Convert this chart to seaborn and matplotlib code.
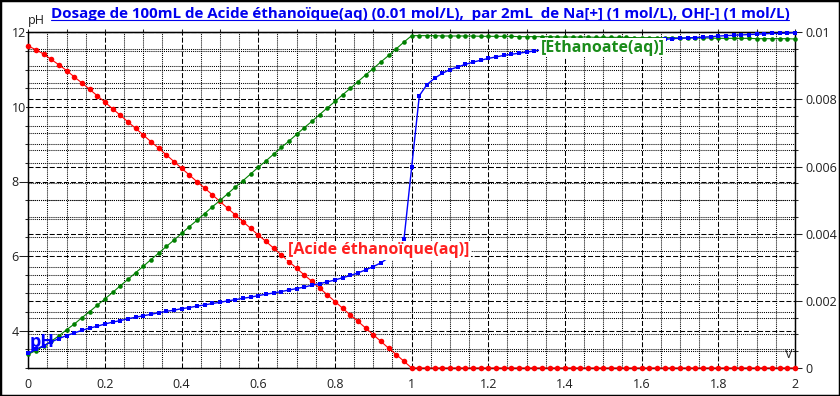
import matplotlib
matplotlib.use("Agg")
import matplotlib.pyplot as plt
import seaborn as sns
from matplotlib.lines import Line2D
from matplotlib.patches import Rectangle
from matplotlib.ticker import FixedLocator, MultipleLocator

# volume of NaOH added (mL)
volume = [
    0.00, 0.02, 0.04, 0.06, 0.08, 0.10, 0.12, 0.14, 0.16, 0.18,
    0.20, 0.22, 0.24, 0.26, 0.28, 0.30, 0.32, 0.34, 0.36, 0.38,
    0.40, 0.42, 0.44, 0.46, 0.48, 0.50, 0.52, 0.54, 0.56, 0.58,
    0.60, 0.62, 0.64, 0.66, 0.68, 0.70, 0.72, 0.74, 0.76, 0.78,
    0.80, 0.82, 0.84, 0.86, 0.88, 0.90, 0.92, 0.94, 0.96, 0.98,
    1.00, 1.02, 1.04, 1.06, 1.08, 1.10, 1.12, 1.14, 1.16, 1.18,
    1.20, 1.22, 1.24, 1.26, 1.28, 1.30, 1.32, 1.34, 1.36, 1.38,
    1.40, 1.42, 1.44, 1.46, 1.48, 1.50, 1.52, 1.54, 1.56, 1.58,
    1.60, 1.62, 1.64, 1.66, 1.68, 1.70, 1.72, 1.74, 1.76, 1.78,
    1.80, 1.82, 1.84, 1.86, 1.88, 1.90, 1.92, 1.94, 1.96, 1.98,
    2.00,
]

# pH (left axis)
ph = [
    3.39, 3.50, 3.60, 3.70, 3.79, 3.87, 3.94, 4.01, 4.07, 4.12,
    4.18, 4.23, 4.27, 4.32, 4.36, 4.40, 4.44, 4.48, 4.52, 4.55,
    4.59, 4.62, 4.66, 4.69, 4.73, 4.76, 4.80, 4.83, 4.87, 4.90,
    4.94, 4.98, 5.01, 5.05, 5.09, 5.13, 5.17, 5.22, 5.26, 5.31,
    5.36, 5.42, 5.48, 5.55, 5.63, 5.72, 5.82, 5.96, 6.14, 6.45,
    8.38, 10.30, 10.60, 10.77, 10.90, 11.00, 11.07, 11.14, 11.20, 11.25,
    11.30, 11.34, 11.38, 11.41, 11.44, 11.47, 11.50, 11.53, 11.55, 11.57,
    11.60, 11.62, 11.64, 11.66, 11.67, 11.69, 11.71, 11.73, 11.74, 11.76,
    11.77, 11.79, 11.80, 11.81, 11.83, 11.84, 11.85, 11.86, 11.87, 11.88,
    11.90, 11.91, 11.92, 11.93, 11.94, 11.95, 11.96, 11.97, 11.97, 11.98,
    11.99,
]

# [Acide ethanoique(aq)] in mol/L (right axis)
acide = [
    0.00959, 0.00948, 0.00935, 0.00919, 0.00903, 0.00886, 0.00867, 0.00849, 0.00830, 0.00811,
    0.00792, 0.00772, 0.00753, 0.00733, 0.00714, 0.00694, 0.00674, 0.00655, 0.00635, 0.00615,
    0.00595, 0.00575, 0.00555, 0.00536, 0.00516, 0.00496, 0.00476, 0.00456, 0.00436, 0.00416,
    0.00396, 0.00377, 0.00357, 0.00337, 0.00317, 0.00297, 0.00277, 0.00258, 0.00238, 0.00218,
    0.00198, 0.00178, 0.00158, 0.00139, 0.00119, 0.00099, 0.00079, 0.00059, 0.00040, 0.00020,
    0.0, 0.0, 0.0, 0.0, 0.0, 0.0, 0.0, 0.0, 0.0, 0.0,
    0.0, 0.0, 0.0, 0.0, 0.0, 0.0, 0.0, 0.0, 0.0, 0.0,
    0.0, 0.0, 0.0, 0.0, 0.0, 0.0, 0.0, 0.0, 0.0, 0.0,
    0.0, 0.0, 0.0, 0.0, 0.0, 0.0, 0.0, 0.0, 0.0, 0.0,
    0.0, 0.0, 0.0, 0.0, 0.0, 0.0, 0.0, 0.0, 0.0, 0.0,
    0.0,
]

# [Ethanoate(aq)] in mol/L (right axis)
ethanoate = [
    0.00041, 0.00052, 0.00065, 0.00080, 0.00096, 0.00114, 0.00131, 0.00150, 0.00168, 0.00187,
    0.00206, 0.00225, 0.00245, 0.00264, 0.00284, 0.00303, 0.00323, 0.00342, 0.00362, 0.00381,
    0.00401, 0.00421, 0.00440, 0.00460, 0.00480, 0.00499, 0.00519, 0.00539, 0.00558, 0.00578,
    0.00598, 0.00617, 0.00637, 0.00657, 0.00676, 0.00696, 0.00716, 0.00735, 0.00755, 0.00775,
    0.00794, 0.00814, 0.00833, 0.00853, 0.00873, 0.00892, 0.00912, 0.00931, 0.00951, 0.00971,
    0.00990, 0.00990, 0.00990, 0.00990, 0.00989, 0.00989, 0.00989, 0.00989, 0.00989, 0.00988,
    0.00988, 0.00988, 0.00988, 0.00988, 0.00987, 0.00987, 0.00987, 0.00987, 0.00987, 0.00986,
    0.00986, 0.00986, 0.00986, 0.00986, 0.00985, 0.00985, 0.00985, 0.00985, 0.00985, 0.00984,
    0.00984, 0.00984, 0.00984, 0.00984, 0.00984, 0.00983, 0.00983, 0.00983, 0.00983, 0.00983,
    0.00982, 0.00982, 0.00982, 0.00982, 0.00982, 0.00981, 0.00981, 0.00981, 0.00981, 0.00981,
    0.00980,
]

x_ticks = [0, 0.2, 0.4, 0.6, 0.8, 1.0, 1.2, 1.4, 1.6, 1.8, 2.0]
x_labels = ["0", "0.2", "0.4", "0.6", "0.8", "1", "1.2", "1.4", "1.6", "1.8", "2"]
ph_ticks = [4, 6, 8, 10, 12]
ph_labels = ["4", "6", "8", "10", "12"]
conc_ticks = [0, 0.002, 0.004, 0.006, 0.008, 0.01]
conc_labels = ["0", "0.002", "0.004", "0.006", "0.008", "0.01"]

title = "Dosage de 100mL de Acide éthanoïque(aq) (0.01 mol/L),  par 2mL  de Na[+] (1 mol/L), OH[-] (1 mol/L)"

sns.set_style("white")
plt.rcParams["font.family"] = ["Open Sans", "DejaVu Sans"]

W, H = 840, 396
fig = plt.figure(figsize=(W / 100, H / 100), dpi=100)
ax = fig.add_axes([28.3 / W, 1 - 368 / H, (795 - 28.3) / W, (368 - 32.3) / H])
ax2 = ax.twinx()
ax3 = ax.twinx()

txt_col = "#202020"
dash_major = (0, (4.8, 2.0))
dot_minor = (0, (1.0, 1.0))

# concentrations on the right axis
sns.lineplot(x=volume, y=acide, ax=ax2, color="#ff0000", marker="o", markersize=4,
             markeredgewidth=0, linewidth=0.8, clip_on=False, zorder=3)
sns.lineplot(x=volume, y=ethanoate, ax=ax2, color="#008000", marker="o", markersize=3.3,
             markeredgewidth=0, linewidth=0.8, clip_on=False, zorder=3)
# pH on top
sns.lineplot(x=volume, y=ph, ax=ax3, color="#0000ff", marker="s", markersize=3,
             markeredgewidth=0, linewidth=1.0, clip_on=False, zorder=3)

# left axis: pH grid
ax.set_xlim(0, 2)
ax.set_ylim(3, 12)
ax.xaxis.set_major_locator(FixedLocator(x_ticks))
ax.set_xticklabels(x_labels)
ax.xaxis.set_minor_locator(MultipleLocator(0.05))
ax.yaxis.set_major_locator(FixedLocator(ph_ticks))
ax.set_yticklabels(ph_labels)
ax.yaxis.set_minor_locator(MultipleLocator(0.5))
ax.grid(which="major", color="black", linestyle=dash_major, linewidth=0.75)
ax.grid(which="minor", color="black", linestyle=dot_minor, linewidth=0.75)
ax.tick_params(axis="x", which="major", direction="out", length=5, width=0.75,
               pad=2.5, labelsize=9, colors=txt_col)
ax.tick_params(axis="x", which="minor", direction="out", length=2.2, width=0.75)
ax.tick_params(axis="y", which="major", direction="out", length=6.5, width=0.75,
               pad=5.5, labelsize=9, colors=txt_col)
ax.tick_params(axis="y", which="minor", direction="out", length=2.5, width=0.75)
for lbl in ax.get_yticklabels():
    lbl.set_horizontalalignment("left")
    lbl.set_bbox(dict(facecolor="white", edgecolor="none", pad=0))
ax.set_xlabel("")
ax.set_ylabel("")

# right axis: concentration grid
ax2.set_ylim(0, 0.01)
ax2.yaxis.set_major_locator(FixedLocator(conc_ticks))
ax2.set_yticklabels(conc_labels)
ax2.yaxis.set_minor_locator(MultipleLocator(0.0005))
ax2.grid(axis="y", which="major", color="black", linestyle=dash_major, linewidth=0.75)
ax2.grid(axis="y", which="minor", color="black", linestyle=dot_minor, linewidth=0.75)
ax2.tick_params(axis="y", which="major", direction="out", length=5, width=0.75,
                pad=2.5, labelsize=9, colors=txt_col)
ax2.tick_params(axis="y", which="minor", direction="inout", length=4, width=0.75)
ax2.set_ylabel("")

sec = ax.secondary_xaxis("top")
sec.xaxis.set_major_locator(MultipleLocator(0.1))
sec.tick_params(direction="out", length=2.5, width=0.75, labeltop=False)

for a in (ax, ax2):
    for s in a.spines.values():
        s.set_linewidth(0.9)
        s.set_color("black")

ax3.set_xlim(0, 2)
ax3.set_ylim(3, 12)
ax3.set_axis_off()

box = dict(boxstyle="square,pad=0.1", facecolor="white", edgecolor="none")
ax3.text(0.677, 6.16, "[Acide éthanoïque(aq)]", color="#ff2020", fontsize=11.5,
         fontweight="bold", ha="left", va="center", bbox=box, zorder=6)
ax3.text(1.337, 11.59, "[Ethanoate(aq)]", color="#1a8c1a", fontsize=11.5,
         fontweight="bold", ha="left", va="center", bbox=box, zorder=6)
ax3.text(0.003, 3.70, "pH", color="#0000ff", fontsize=13, fontweight="bold",
         ha="left", va="center", zorder=6)

ax.text(0, 1 + (32.3 - 24) / 335.7, "pH", transform=ax.transAxes, ha="left",
        va="baseline", fontsize=9, color=txt_col)
ax.text(0.997, (368 - 358) / 335.7, "V", transform=ax.transAxes, ha="right",
        va="baseline", fontsize=9, color=txt_col)

t = fig.text(0.5, 1 - 17.7 / H, title, ha="center", va="baseline", fontsize=10.9,
             fontweight="bold", color="#0000ee")

fig.patches.append(Rectangle((0, 0), 1, 1, transform=fig.transFigure, fill=False,
                             edgecolor="black", linewidth=2.5))

# underline the title
fig.canvas.draw()
bb = t.get_window_extent()
yl = 1 - 19.5 / H
fig.add_artist(Line2D([bb.x0 / W, bb.x1 / W], [yl, yl], transform=fig.transFigure,
                      color="#0000ee", linewidth=0.8))

fig.savefig("out.png", dpi=100)
